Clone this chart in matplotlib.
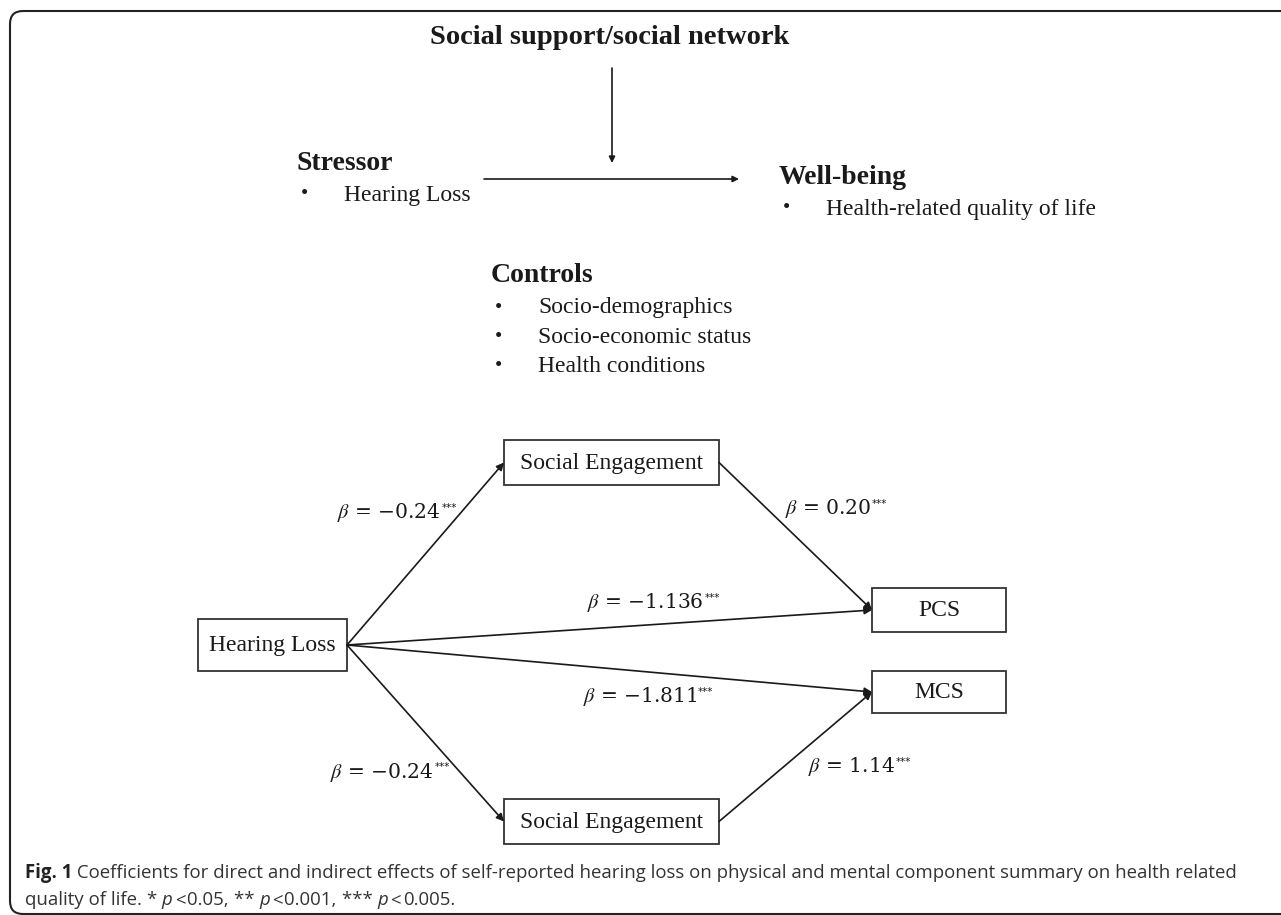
import matplotlib
matplotlib.use("Agg")
import matplotlib.pyplot as plt
from matplotlib.patches import FancyBboxPatch, Rectangle

plt.rcParams["mathtext.fontset"] = "stix"

W, H = 1281, 915

# conceptual framework
frame_title = "Social support/social network"
stressor_head = "Stressor"
stressor_items = ["Hearing Loss"]
wellbeing_head = "Well-being"
wellbeing_items = ["Health-related quality of life"]
controls_head = "Controls"
controls_items = ["Socio-demographics", "Socio-economic status", "Health conditions"]

# path model
node_names = ["Hearing Loss", "Social Engagement", "Social Engagement", "PCS", "MCS"]
edges = [(0, 1), (1, 3), (0, 3), (0, 4), (0, 2), (2, 4)]
coefs = ["-0.24", "0.20", "-1.136", "-1.811", "-0.24", "1.14"]
sig = "***"

caption_line1 = ("Coefficients for direct and indirect effects of self-reported hearing loss "
                 "on physical and mental component summary on health related")
p_levels = ["0.05", "0.001", "0.005"]

fig = plt.figure(figsize=(W / 100, H / 100), dpi=100)
ax = fig.add_axes([0, 0, 1, 1])
ax.set_xlim(0, W)
ax.set_ylim(H, 0)
ax.axis("off")

serif = "Liberation Serif"
ink = "#1a1a1a"

# outer rounded frame, open to the right
ax.add_patch(FancyBboxPatch((10, 11), 1400, 903,
                            boxstyle="round,pad=0,rounding_size=13",
                            fc="none", ec="#222222", lw=1.5, clip_on=True))

# --- top framework ---
ax.text(610, 38, frame_title, family=serif, weight="bold", fontsize=20.5,
        ha="center", va="center", color=ink)
ax.annotate("", xy=(612, 163), xytext=(612, 68),
            arrowprops=dict(arrowstyle="-|>", lw=1.2, color=ink, mutation_scale=9,
                            shrinkA=0, shrinkB=0))
ax.annotate("", xy=(739, 179), xytext=(484, 179),
            arrowprops=dict(arrowstyle="-|>", lw=1.2, color=ink, mutation_scale=9,
                            shrinkA=0, shrinkB=0))


def block(x, y, head, items, gap=30):
    ax.text(x, y, head, family=serif, weight="bold", fontsize=20,
            ha="left", va="center", color=ink)
    for i, it in enumerate(items):
        yy = y + 32 + i * gap
        ax.text(x + 7, yy, "\u2022", family=serif, fontsize=15, ha="center",
                va="center", color=ink)
        ax.text(x + 47, yy, it, family=serif, fontsize=17, ha="left",
                va="center", color=ink)


block(297, 163, stressor_head, stressor_items)
block(779, 177, wellbeing_head, wellbeing_items)
block(491, 276, controls_head, controls_items, gap=29.5)

# --- path diagram ---
boxes = [(198, 619, 149, 52), (504, 440, 215, 45), (504, 799, 215, 45),
         (872, 588, 134, 44), (872, 671, 134, 42)]
for (x, y, w, h), name in zip(boxes, node_names):
    ax.add_patch(Rectangle((x, y), w, h, fc="white", ec="#333333", lw=1.3))
    ax.text(x + w / 2, y + h / 2 + 1, name, family=serif, fontsize=17,
            ha="center", va="center", color=ink)


def anchor(i, side):
    x, y, w, h = boxes[i]
    return (x + w, y + h / 2) if side == "right" else (x, y + h / 2)


for a, b in edges:
    ax.annotate("", xy=anchor(b, "left"), xytext=anchor(a, "right"),
                arrowprops=dict(arrowstyle="-|>", lw=1.2, color=ink,
                                mutation_scale=11, shrinkA=0, shrinkB=0))

fig.canvas.draw()
rend = fig.canvas.get_renderer()

label_pos = [(337, 513), (785, 509), (587, 603), (583, 697), (330, 772), (808, 767)]
for (x, y), c in zip(label_pos, coefs):
    c = c.replace("-", "\u2212")
    t = ax.text(x, y, r"$\beta$ = " + c, fontsize=14.6, family="DejaVu Serif",
                ha="left", va="center", color=ink)
    bb = t.get_window_extent(rend)
    ax.text(x + bb.width + 1, y - 5, sig, fontsize=7.5, family="DejaVu Sans",
            ha="left", va="center", color=ink)

# --- caption ---
cap_font = "Open Sans"
cap_col = "#333333"


def runs(x, y, parts):
    for part in parts:
        if isinstance(part, (int, float)):
            x += part
            continue
        txt, kw = part
        style = dict(family=cap_font, fontsize=13.4, ha="left",
                     va="baseline", color=cap_col)
        style.update(kw)
        t = ax.text(x, y, txt, **style)
        bb = t.get_window_extent(rend)
        x += bb.width


runs(25, 878, [("Fig. 1", dict(weight="bold", color="#222222")),
               (" " + caption_line1, {})])
line2 = [("quality of life. ", {})]
for i, p in enumerate(p_levels):
    line2.append(("*" * (i + 1) + " ", {}))
    line2.append(("p", dict(style="italic")))
    line2 += [2, ("<", {}), 2, (p + (", " if i < 2 else "."), {})]
runs(25, 905, line2)

fig.savefig("out.png", dpi=100)
